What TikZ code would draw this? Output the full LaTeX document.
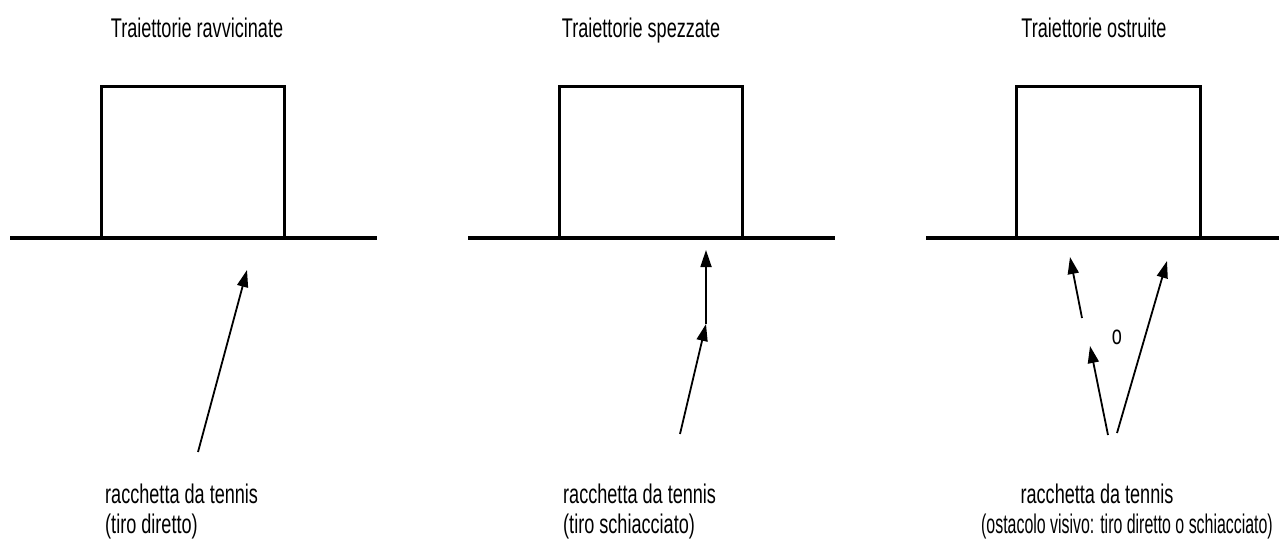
\documentclass[tikz,border=0pt]{standalone}
\usepackage{fontspec}
\setmainfont{Liberation Sans}[FakeStretch=0.67]
\usetikzlibrary{arrows.meta}
\tikzset{
  txt/.style={inner sep=0pt, font=\fontsize{27}{31}\selectfont},
  ground/.style={line width=3.5pt},
  goal/.style={line width=3pt, line join=miter},
  shot/.style={line width=1.8pt, -{Triangle[length=17pt,width=11pt]}}
}
\begin{document}
\begin{tikzpicture}[x=1pt,y=-1pt]
\useasboundingbox (0,0) rectangle (1279,538);
% titles
\node[txt, anchor=base] (t1) at (197,37) {Traiettorie ravvicinate};
\node[txt, anchor=base] (t2) at (641,37) {Traiettorie spezzate};
\node[txt, anchor=base] (t3) at (1094,37) {Traiettorie ostruite};
% ground lines and goals
\draw[ground] (10,238) -- (377,238);
\draw[goal] (101,238) -- (101,86) -- (284,86) -- (284,238);
\draw[ground] (468,238) -- (835,238);
\draw[goal] (559,238) -- (559,86) -- (742,86) -- (742,238);
\draw[ground] (926,238) -- (1279,238);
\draw[goal] (1016,238) -- (1016,86) -- (1200,86) -- (1200,238);
% panel 1 shot
\coordinate (a1s) at (198,452);
\coordinate (a1e) at (247,270);
\draw[shot] (a1s) -- (a1e);
% panel 2 shots
\coordinate (a2s) at (680,434);
\coordinate (a2m) at (706,324);
\coordinate (a2e) at (706,250);
\draw[shot] (a2s) -- (a2m);
\draw[shot] (a2m) -- (a2e);
% panel 3 shots
\coordinate (a3s) at (1108,435);
\coordinate (a3m) at (1090,346);
\coordinate (a3b) at (1082,318);
\coordinate (a3e) at (1070,257);
\coordinate (a3r) at (1117,433);
\coordinate (a3f) at (1167,261);
\draw[shot] (a3s) -- (a3m);
\draw[shot] (a3b) -- (a3e);
\draw[shot] (a3r) -- (a3f);
\node[txt] (obs) at (1117,337) {o};
% captions
\node[txt, anchor=base west] (c1a) at (105,503) {racchetta da tennis};
\node[txt, anchor=base west] (c1b) at (105,533) {(tiro diretto)};
\node[txt, anchor=base west] (c2a) at (563,503) {racchetta da tennis};
\node[txt, anchor=base west] (c2b) at (563,533) {(tiro schiacciato)};
\node[txt, anchor=base] (c3a) at (1097,503) {racchetta da tennis};
\node[txt, anchor=base] (c3b) at (1127,533) {\scalebox{0.88}[1]{(ostacolo visivo: tiro diretto o schiacciato)}};
\end{tikzpicture}
\end{document}
